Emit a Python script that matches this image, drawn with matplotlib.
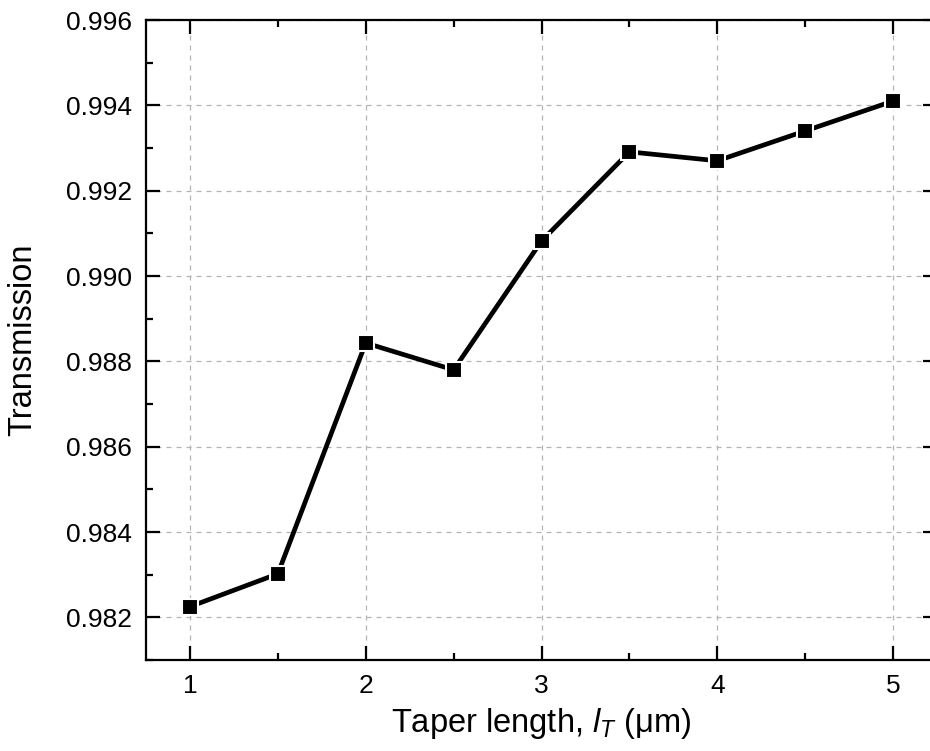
import matplotlib
matplotlib.use("Agg")
import matplotlib.pyplot as plt
from matplotlib.ticker import MultipleLocator

plt.rcParams['font.family'] = ['Liberation Sans', 'DejaVu Sans']
plt.rcParams['mathtext.fontset'] = 'custom'
plt.rcParams['mathtext.rm'] = 'Liberation Sans'
plt.rcParams['mathtext.it'] = 'Liberation Sans:italic'

taper_length = [1.0, 1.5, 2.0, 2.5, 3.0, 3.5, 4.0, 4.5, 5.0]
transmission = [0.98225, 0.98302, 0.98843, 0.98780, 0.99082, 0.99291, 0.99270, 0.99340, 0.99410]
x_ticks = [1, 2, 3, 4, 5]
y_ticks = [0.982, 0.984, 0.986, 0.988, 0.990, 0.992, 0.994, 0.996]

fig = plt.figure(figsize=(9.3, 7.51), dpi=100)
ax = fig.add_axes([146/930, 91/751, 791/930, 640/751])

ax.plot(taper_length, transmission, color='black', lw=3.4, marker='s',
        markersize=12, markerfacecolor='black', markeredgecolor='white',
        markeredgewidth=1.5, zorder=3)

ax.set_xlim(0.75, 5.25)
ax.set_ylim(0.981, 0.996)
ax.set_xticks(x_ticks)
ax.set_yticks(y_ticks)
ax.set_xticklabels([str(v) for v in x_ticks])
ax.set_yticklabels([f"{v:.3f}" for v in y_ticks])
ax.xaxis.set_minor_locator(MultipleLocator(0.5))
ax.yaxis.set_minor_locator(MultipleLocator(0.001))

ax.grid(True, which='major', color='#b4b4b4', linestyle=(0, (4, 4)), linewidth=0.9)
ax.set_axisbelow(True)

for s in ax.spines.values():
    s.set_linewidth(1.6)

ax.tick_params(which='both', direction='in', top=True, right=True, width=1.6,
               labelsize=19, pad=10)
ax.tick_params(which='major', length=10)
ax.tick_params(which='minor', length=5)

ax.set_xlabel("Taper length, $\\mathit{l}_{\\mathit{T}}$ ($\\mathrm{\\mu}$m)", fontsize=23.5, labelpad=6)
ax.set_ylabel("Transmission", fontsize=23.5, labelpad=20)

fig.savefig("out.png", dpi=100)
